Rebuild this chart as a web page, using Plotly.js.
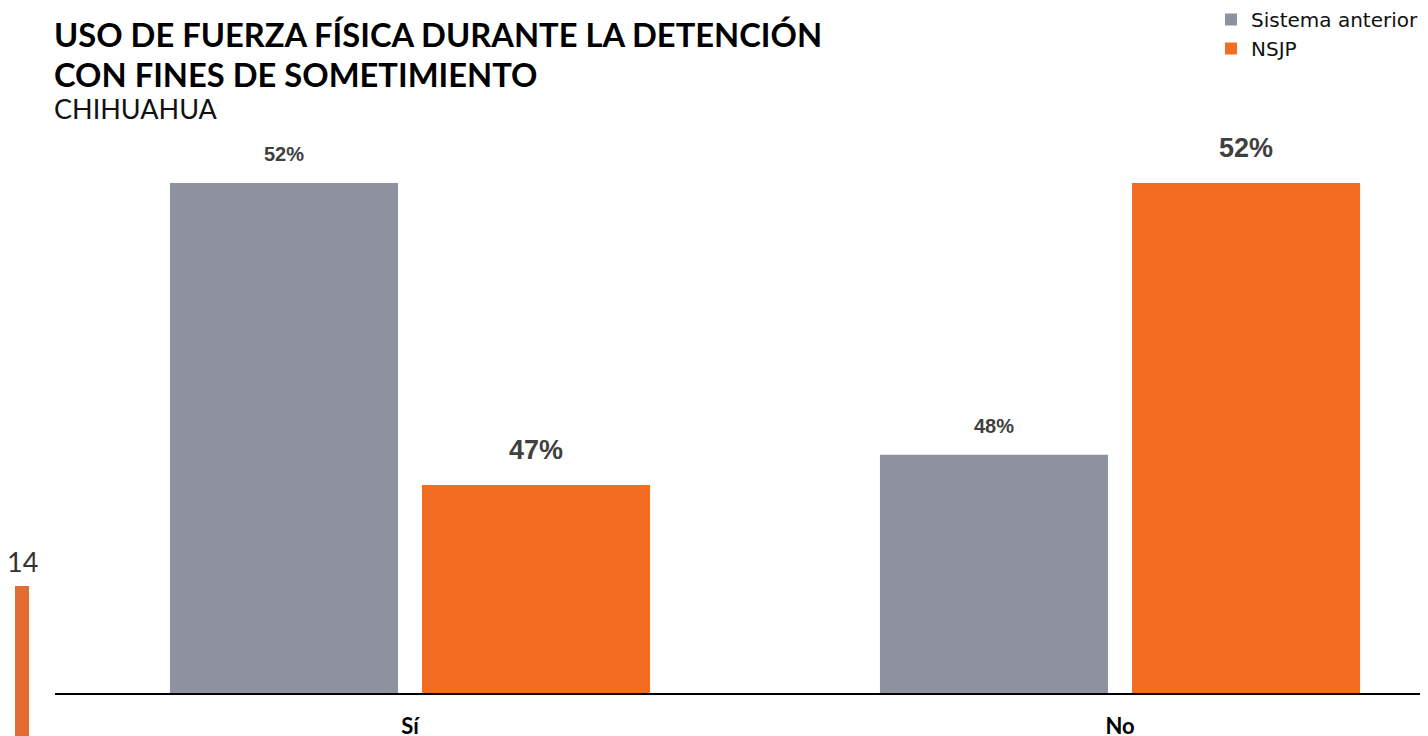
<!DOCTYPE html>
<html><head><meta charset="utf-8">
<script src="https://cdn.plot.ly/plotly-3.0.1.min.js"></script>
<style>html,body{margin:0;padding:0;background:#fff}#chart{width:1428px;height:736px}</style>
</head><body><div id="chart"></div>
<script>
const categories = ["Sí", "No"];
const seriesNames = ["Sistema anterior", "NSJP"];
const sistemaAnterior = [52, 47.5];
const nsjp = [47, 52];
const titleLines = ["USO DE FUERZA FÍSICA DURANTE LA DETENCIÓN", "CON FINES DE SOMETIMIENTO"];
const subtitle = "CHIHUAHUA";
const pageNumber = "14";

const GREY = "#8E929E", ORANGE = "#F26C22", LABEL = "#404040";
const PL = 55, PT = 140, PB = 693, PW = 1365, PH = PB - PT;
const px2x = px => (px - PL) / PW;
const px2y = py => (PB - py) / PH;

const traces = [
  {type: "bar", name: seriesNames[0], x: categories, y: sistemaAnterior, marker: {color: GREY}, hoverinfo: "skip"},
  {type: "bar", name: seriesNames[1], x: categories, y: nsjp, marker: {color: ORANGE}, hoverinfo: "skip"}
];

const fmt = v => Math.round(v) + "%";
const annotations = [];
sistemaAnterior.forEach((v, i) => annotations.push({
  x: categories[i], y: v, xref: "x", yref: "y", xshift: -126, yshift: 16, yanchor: "bottom",
  text: fmt(v), showarrow: false, font: {family: "Liberation Sans, Arial", size: 20, color: LABEL, weight: "bold"}
}));
nsjp.forEach((v, i) => annotations.push({
  x: categories[i], y: v, xref: "x", yref: "y", xshift: 126, yshift: 18, yanchor: "bottom",
  text: fmt(v), showarrow: false, font: {family: "Liberation Sans, Arial", size: 27, color: LABEL, weight: "bold"}
}));
titleLines.forEach((t, i) => annotations.push({
  xref: "paper", yref: "paper", x: px2x(52), y: px2y(13 + i * 40), xanchor: "left", yanchor: "top",
  text: "<b>" + t + "</b>", showarrow: false, font: {family: "Lato", size: 32.7, color: "#000"}
}));
annotations.push({
  xref: "paper", yref: "paper", x: px2x(52), y: px2y(90), xanchor: "left", yanchor: "top",
  text: subtitle, showarrow: false, font: {family: "Lato", size: 27, color: "#111"}
});
annotations.push({
  xref: "paper", yref: "paper", x: px2x(22), y: px2y(561), xanchor: "center", yanchor: "middle",
  text: pageNumber, showarrow: false, font: {family: "Lato", size: 27, color: "#333"}
});

const layout = {
  width: 1428, height: 736,
  paper_bgcolor: "#fff", plot_bgcolor: "#fff",
  margin: {l: 55, r: 8, t: 140, b: 43, autoexpand: false},
  barmode: "group", bargap: 0.29, bargroupgap: 0.0952,
  xaxis: {
    range: [-0.5, 1.4225], showgrid: false, zeroline: false,
    showline: true, linecolor: "#000", linewidth: 2, ticks: "",
    tickfont: {family: "Lato", size: 22, color: "#000", weight: "bold"},
    ticklabelstandoff: 13, fixedrange: true
  },
  yaxis: {
    range: [43.556, 52.712], visible: false, showgrid: false, zeroline: false, fixedrange: true
  },
  legend: {
    xref: "container", yref: "container", x: 1 - 4/1428, xanchor: "right", y: 1, yanchor: "top",
    font: {family: "DejaVu Sans", size: 20, color: "#111"}, bgcolor: "rgba(0,0,0,0)",
    itemwidth: 30, tracegroupgap: 0
  },
  shapes: [{
    type: "rect", xref: "paper", yref: "paper",
    x0: px2x(15), x1: px2x(29), y0: px2y(586), y1: px2y(740),
    fillcolor: "#E36C33", line: {width: 0}
  }],
  annotations: annotations,
  showlegend: true
};

Plotly.newPlot("chart", traces, layout, {displayModeBar: false, staticPlot: true});
</script></body></html>
